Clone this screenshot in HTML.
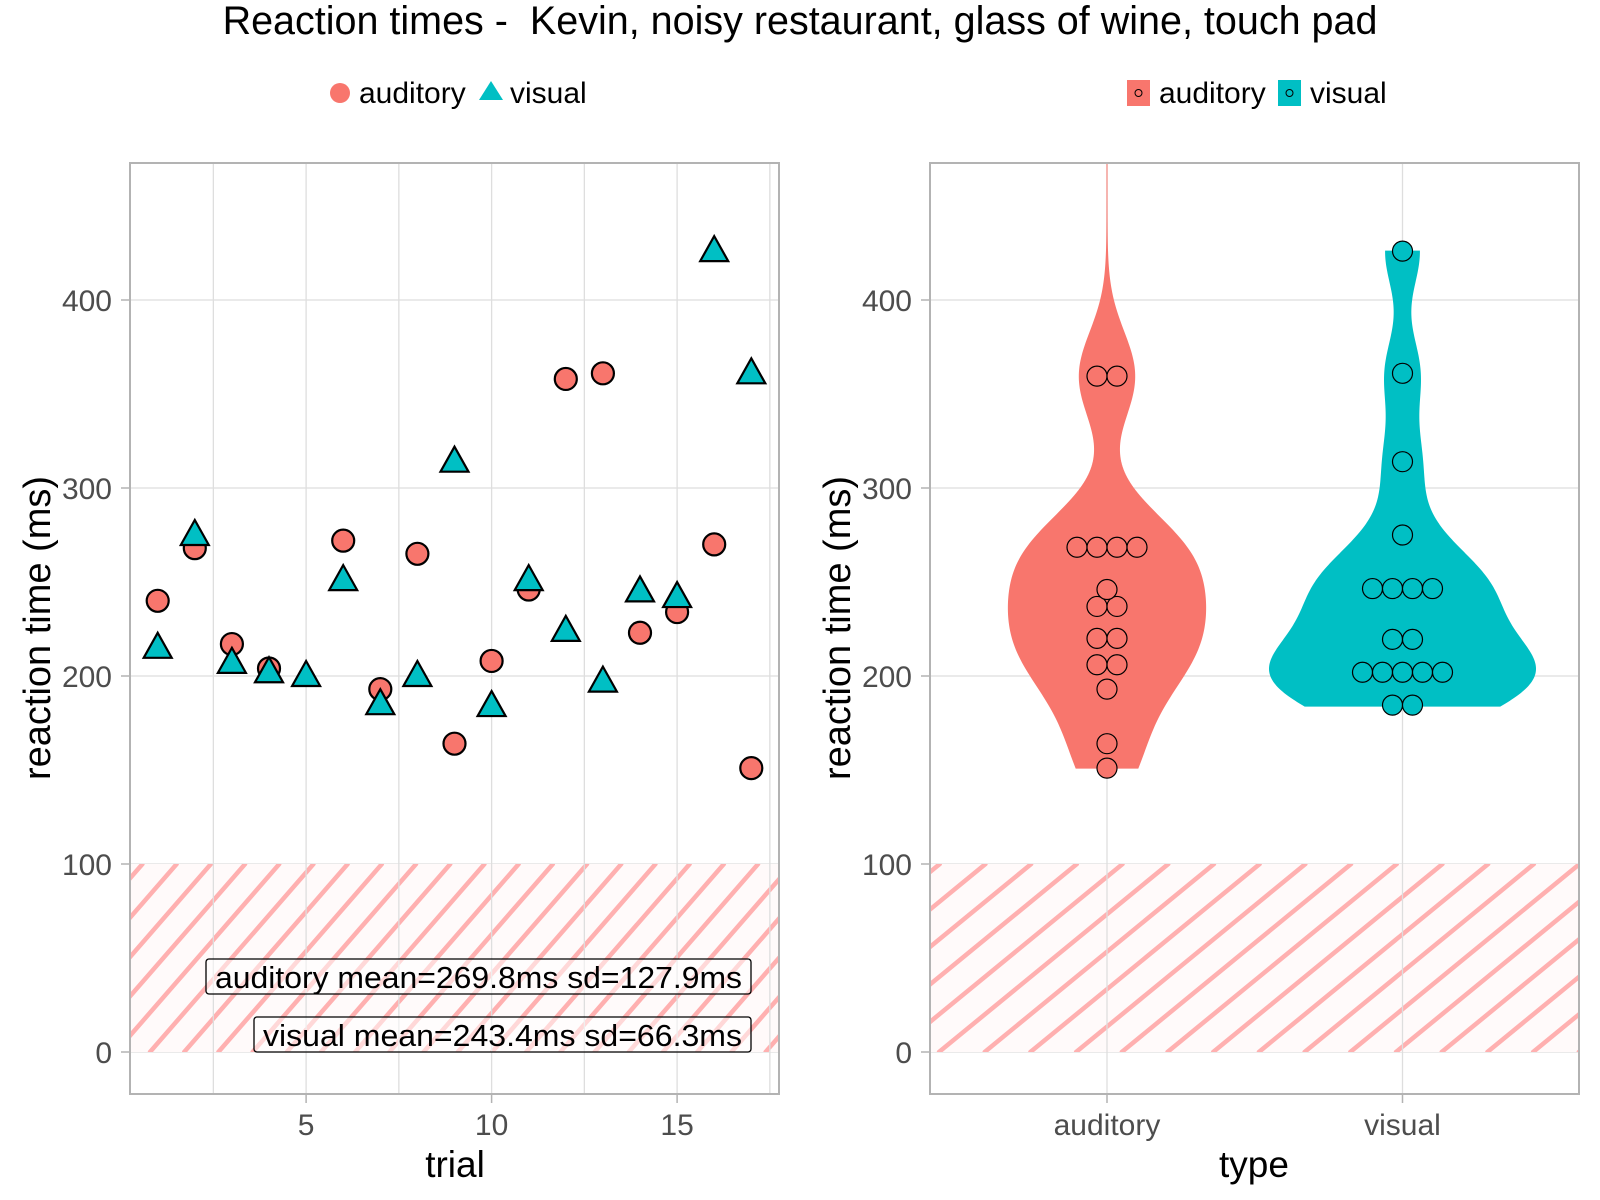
<!DOCTYPE html>
<html><head><meta charset="utf-8"><style>
html,body{margin:0;padding:0;background:#fff;}
svg{display:block;font-family:"Liberation Sans",sans-serif;}
</style></head><body>
<svg id="chart" width="1600" height="1200" viewBox="0 0 1600 1200">
<defs>
<clipPath id="clipL"><rect x="130" y="163" width="649" height="931"/></clipPath>
<clipPath id="clipR"><rect x="930" y="163" width="649" height="931"/></clipPath>
<clipPath id="hatchL"><rect x="130" y="864" width="649" height="188"/></clipPath>
<clipPath id="hatchR"><rect x="930" y="864" width="649" height="188"/></clipPath>
</defs>
<text x="800" y="34" text-anchor="middle" font-size="39.5" fill="#000" style="white-space:pre">Reaction times -  Kevin, noisy restaurant, glass of wine, touch pad</text>
<g id="legendL">
<circle cx="340" cy="93" r="10" fill="#F8766D"/>
<text x="359" y="103" font-size="30">auditory</text>
<polygon points="491,81 503,100 479,100" fill="#00BFC4"/>
<text x="510" y="103" font-size="30">visual</text>
</g>
<g id="legendR">
<rect x="1127" y="80" width="23" height="26" fill="#F8766D"/>
<circle cx="1138.5" cy="93" r="3.5" fill="none" stroke="#000" stroke-width="1"/>
<text x="1159" y="103" font-size="30">auditory</text>
<rect x="1278" y="80" width="23" height="26" fill="#00BFC4"/>
<circle cx="1289.5" cy="93" r="3.5" fill="none" stroke="#000" stroke-width="1"/>
<text x="1310" y="103" font-size="30">visual</text>
</g>
<g id="panelL"></g>
<g id="panelR"></g>
</svg>
<script>
const trials = [1,2,3,4,5,6,7,8,9,10,11,12,13,14,15,16,17];
const auditoryRT = [240,268,217,204,713,272,193,265,164,208,246,358,361,223,234,270,151];
const visualRT = [215,275,207,202,200,251,185,200,314,184,251,224,197,245,242,426,361];
const yTicks = [0,100,200,300,400];
const xTicks = [5,10,15];
const xMinor = [2.5,7.5,12.5,17.5];
const categories = ["auditory","visual"];
const annotations = ["auditory mean=269.8ms sd=127.9ms","visual mean=243.4ms sd=66.3ms"];

const NS="http://www.w3.org/2000/svg";
function mk(tag,attrs,parent){const e=document.createElementNS(NS,tag);for(const k in attrs)e.setAttribute(k,attrs[k]);parent.appendChild(e);return e;}
const y=v=>1052-v*1.88;
const xL=t=>491.6+(t-10)*37.1;
const xR=i=>1107+i*295.5;
const COL=["#F8766D","#00BFC4"];
const pL=document.getElementById('panelL'), pR=document.getElementById('panelR');

function panelBase(g,x0,clipId,slopeDx,spacing,start){
  yTicks.forEach(v=>{const l=mk('line',{x1:x0,x2:x0+649,y1:y(v),y2:y(v),stroke:'#dedede','stroke-width':1.3},g);
    
    const tk=mk('line',{x1:x0-9,x2:x0,y1:y(v),y2:y(v),stroke:'#b3b3b3','stroke-width':1.5},g);
    
    const t=mk('text',{x:x0-18,y:y(v)+11,'text-anchor':'end','font-size':30,fill:'#4d4d4d'},g);t.textContent=v;
    });
  const hg=mk('g',{'clip-path':'url(#'+clipId+')'},g);
  
  mk('rect',{x:x0,y:864,width:649,height:188,fill:'#fffafa'},hg);
  for(let k=-10;k<30;k++){const bx=start+k*spacing;
    const ln=mk('line',{x1:bx,y1:1052,x2:bx+slopeDx,y2:864,stroke:'#ffb0b0','stroke-width':4.5,'stroke-linecap':'round'},hg);
    }
}
// LEFT
panelBase(pL,130,'hatchL',188/1.15,34.2,150);
xMinor.concat(xTicks).forEach(t=>{const l=mk('line',{x1:xL(t),x2:xL(t),y1:163,y2:1094,stroke:'#dedede','stroke-width':1.3},pL);
  });
xTicks.forEach(t=>{const tk=mk('line',{x1:xL(t),x2:xL(t),y1:1094,y2:1103,stroke:'#b3b3b3','stroke-width':1.5},pL);
  
  const tx=mk('text',{x:xL(t),y:1135,'text-anchor':'middle','font-size':30,fill:'#4d4d4d'},pL);tx.textContent=t;
  });
[[206,959],[254,1017]].forEach((b,i)=>{
  const r=mk('rect',{x:b[0],y:b[1],width:751-b[0],height:35,rx:3,fill:'#fff','fill-opacity':0.5,stroke:'#000','stroke-width':1.3},pL);
  
  const t=mk('text',{x:b[0]+9,y:b[1]+29,'font-size':31,fill:'#000',textLength:751-b[0]-18,lengthAdjust:'spacingAndGlyphs'},pL);t.textContent=annotations[i];
  });
const ptsL=mk('g',{'clip-path':'url(#clipL)'},pL);

trials.forEach((t,i)=>{
  const c=mk('circle',{cx:xL(t),cy:y(auditoryRT[i]),r:11,fill:COL[0],stroke:'#000','stroke-width':2.2},ptsL);
  
  const cx=xL(t),cy=y(visualRT[i]);
  const p=mk('polygon',{points:`${cx},${cy-15} ${cx+14},${cy+10} ${cx-14},${cy+10}`,fill:COL[1],stroke:'#000','stroke-width':2.2},ptsL);
  
});
mk('rect',{x:130,y:163,width:649,height:931,fill:'none',stroke:'#b3b3b3','stroke-width':2},pL);
let tt=mk('text',{x:455,y:1177,'text-anchor':'middle','font-size':37},pL);tt.textContent='trial';

tt=mk('text',{x:0,y:0,'text-anchor':'middle','font-size':38,transform:'translate(50,628) rotate(-90)'},pL);tt.textContent='reaction time (ms)';


// RIGHT
panelBase(pR,930,'hatchR',188/0.82,45.7,939);
categories.forEach((c,i)=>{const l=mk('line',{x1:xR(i),x2:xR(i),y1:163,y2:1094,stroke:'#dedede','stroke-width':1.3},pR);
  
  const tk=mk('line',{x1:xR(i),x2:xR(i),y1:1094,y2:1103,stroke:'#b3b3b3','stroke-width':1.5},pR);
  
  const tx=mk('text',{x:xR(i),y:1135,'text-anchor':'middle','font-size':30,fill:'#4d4d4d'},pR);tx.textContent=c;
  });
function quant(a,p){const s=[...a].sort((u,v)=>u-v);const h=(s.length-1)*p,lo=Math.floor(h);return s[lo]+(s[Math.min(lo+1,s.length-1)]-s[lo])*(h-lo);}
function kde(data){const n=data.length,m=data.reduce((a,b)=>a+b)/n;
  const sd=Math.sqrt(data.reduce((a,b)=>a+(b-m)*(b-m),0)/(n-1));const iqr=quant(data,.75)-quant(data,.25);
  const bw=0.9*Math.min(sd,iqr/1.34)*Math.pow(n,-0.2);const lo=Math.min(...data),hi=Math.max(...data);
  const pts=[];for(let k=0;k<=400;k++){const v=lo+(hi-lo)*k/400;let d=0;data.forEach(x=>{const z=(v-x)/bw;d+=Math.exp(-z*z/2);});
    pts.push([v,d/(n*bw*Math.sqrt(2*Math.PI))]);}return pts;}
const dens=[kde(auditoryRT),kde(visualRT)];
const dmax=Math.max(...dens.map(d=>Math.max(...d.map(p=>p[1]))));
const vg=mk('g',{'clip-path':'url(#clipR)'},pR);

dens.forEach((d,i)=>{const cx=xR(i),hw=133;
  let s=d.map(p=>`${cx+p[1]/dmax*hw},${y(p[0])}`);let s2=d.slice().reverse().map(p=>`${cx-p[1]/dmax*hw},${y(p[0])}`);
  const pg=mk('polygon',{points:s.concat(s2).join(' '),fill:COL[i],stroke:COL[i],'stroke-width':1},vg);
  });
const bin=10.5,rd=10;
[auditoryRT,visualRT].forEach((data,i)=>{const s=[...data].sort((a,b)=>a-b);let j=0;
  while(j<s.length){let k=j;while(k+1<s.length&&s[k+1]-s[j]<bin)k++;const cnt=k-j+1,c=(s[j]+s[k])/2;
    for(let q=0;q<cnt;q++){const dc=mk('circle',{cx:xR(i)+(q-(cnt-1)/2)*2*rd,cy:y(c),r:rd,fill:COL[i],stroke:'#000','stroke-width':1.2},vg);
      }
    j=k+1;}});
mk('rect',{x:930,y:163,width:649,height:931,fill:'none',stroke:'#b3b3b3','stroke-width':2},pR);
tt=mk('text',{x:1254,y:1177,'text-anchor':'middle','font-size':37},pR);tt.textContent='type';

tt=mk('text',{x:0,y:0,'text-anchor':'middle','font-size':38,transform:'translate(850,628) rotate(-90)'},pR);tt.textContent='reaction time (ms)';

</script>
</body></html>
